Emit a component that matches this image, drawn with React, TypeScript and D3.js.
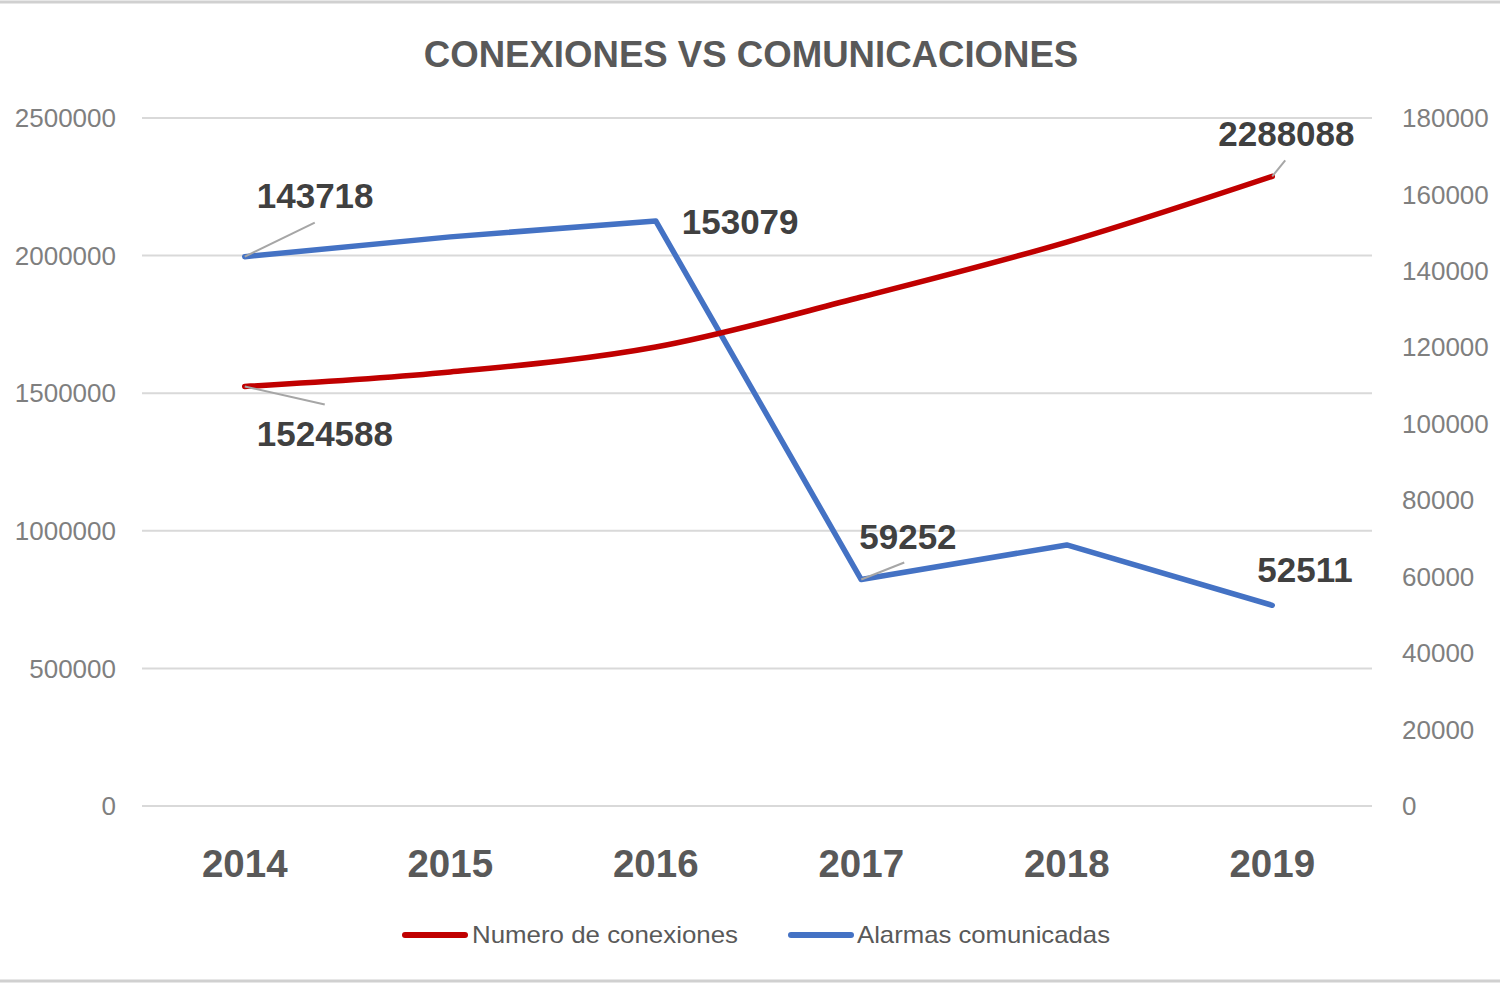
import React from "react";
import * as d3 from "d3";

const years = ["2014", "2015", "2016", "2017", "2018", "2019"];
const conexiones = [1524588, 1577000, 1668000, 1849500, 2049000, 2288088];
const alarmas = [143718, 148900, 153079, 59252, 68300, 52511];
const leftTicks = [0, 500000, 1000000, 1500000, 2000000, 2500000];
const rightTicks = [0, 20000, 40000, 60000, 80000, 100000, 120000, 140000, 160000, 180000];
const title = "CONEXIONES VS COMUNICACIONES";
const seriesNames = ["Numero de conexiones", "Alarmas comunicadas"];

const RED = "#C00000";
const BLUE = "#4472C4";
const FONT = "'Liberation Sans', Arial, sans-serif";

export default function App() {
  const W = 1500, H = 1000;
  const plotLeft = 142, plotRight = 1375, plotTop = 118, plotBottom = 806;
  const band = (plotRight - plotLeft) / years.length;
  const x = d3.scalePoint<string>().domain(years).range([plotLeft + band / 2, plotRight - band / 2]);
  const yL = d3.scaleLinear().domain([0, 2500000]).range([plotBottom, plotTop]);
  const yR = d3.scaleLinear().domain([0, 180000]).range([plotBottom, plotTop]);

  const redLine = d3.line<number>()
    .x((_, i) => x(years[i]) as number)
    .y((d) => yL(d))
    .curve(d3.curveCatmullRom.alpha(0));
  const blueLine = d3.line<number>()
    .x((_, i) => x(years[i]) as number)
    .y((d) => yR(d));

  const px = (i: number) => x(years[i]) as number;
  const labels = [
    { text: String(alarmas[0]), px: px(0), py: yR(alarmas[0]), tx: px(0) + 12, ty: yR(alarmas[0]) - 49, lx: px(0) + 70, ly: yR(alarmas[0]) - 34 },
    { text: String(alarmas[2]), px: px(2), py: yR(alarmas[2]), tx: px(2) + 26, ty: yR(alarmas[2]) + 13, lx: null, ly: null },
    { text: String(alarmas[3]), px: px(3), py: yR(alarmas[3]), tx: px(3) - 2, ty: yR(alarmas[3]) - 31, lx: px(3) + 43, ly: yR(alarmas[3]) - 17 },
    { text: String(alarmas[5]), px: px(5), py: yR(alarmas[5]), tx: px(5) - 15, ty: yR(alarmas[5]) - 23, lx: null, ly: null },
    { text: String(conexiones[0]), px: px(0), py: yL(conexiones[0]), tx: px(0) + 12, ty: yL(conexiones[0]) + 60, lx: px(0) + 80, ly: yL(conexiones[0]) + 18 },
    { text: String(conexiones[5]), px: px(5), py: yL(conexiones[5]), tx: px(5) - 54, ty: yL(conexiones[5]) - 30, lx: px(5) + 13, ly: yL(conexiones[5]) - 16 },
  ];

  return (
    <svg width={W} height={H} style={{ position: "absolute", left: 0, top: 0, background: "#fff" }} fontFamily={FONT}>
      <rect x={0} y={0} width={W} height={H} fill="#fff" />
      <line x1={0} x2={W} y1={2} y2={2} stroke="#d0d0d0" strokeWidth={3} />
      <line x1={0} x2={W} y1={981} y2={981} stroke="#d0d0d0" strokeWidth={3} />

      <text x={751} y={67} textAnchor="middle" fontSize={36.6} fontWeight="bold" fill="#595959">{title}</text>

      {leftTicks.map((t) => (
        <g key={"l" + t}>
          <line x1={plotLeft} x2={plotRight - 3} y1={yL(t)} y2={yL(t)} stroke="#d9d9d9" strokeWidth={2} />
          <text x={116} y={yL(t)} dy="0.35em" textAnchor="end" fontSize={26} fill="#7f7f7f">{t}</text>
        </g>
      ))}
      {rightTicks.map((t) => (
        <text key={"r" + t} x={1402} y={yR(t)} dy="0.35em" textAnchor="start" fontSize={26} fill="#7f7f7f">{t}</text>
      ))}

      {years.map((yr) => (
        <text key={yr} x={x(yr)} y={877} textAnchor="middle" fontSize={38.5} fontWeight="bold" fill="#595959">{yr}</text>
      ))}

      <path d={blueLine(alarmas) || ""} fill="none" stroke={BLUE} strokeWidth={5.5} strokeLinejoin="round" strokeLinecap="round" />
      <path d={redLine(conexiones) || ""} fill="none" stroke={RED} strokeWidth={5.5} strokeLinejoin="round" strokeLinecap="round" />

      {labels.map((l, i) => (
        <g key={"dl" + i}>
          {l.lx !== null && (
            <line x1={l.px} y1={l.py} x2={l.lx} y2={l.ly as number} stroke="#a6a6a6" strokeWidth={2} />
          )}
          <text x={l.tx} y={l.ty} fontSize={35} fontWeight="bold" fill="#404040">{l.text}</text>
        </g>
      ))}

      <g>
        <line x1={405} x2={465} y1={935} y2={935} stroke={RED} strokeWidth={6} strokeLinecap="round" />
        <text x={472} y={935} dy="0.35em" fontSize={24} textLength={266} lengthAdjust="spacingAndGlyphs" fill="#595959">{seriesNames[0]}</text>
        <line x1={791} x2={851} y1={935} y2={935} stroke={BLUE} strokeWidth={6} strokeLinecap="round" />
        <text x={857} y={935} dy="0.35em" fontSize={24} textLength={253} lengthAdjust="spacingAndGlyphs" fill="#595959">{seriesNames[1]}</text>
      </g>
    </svg>
  );
}
